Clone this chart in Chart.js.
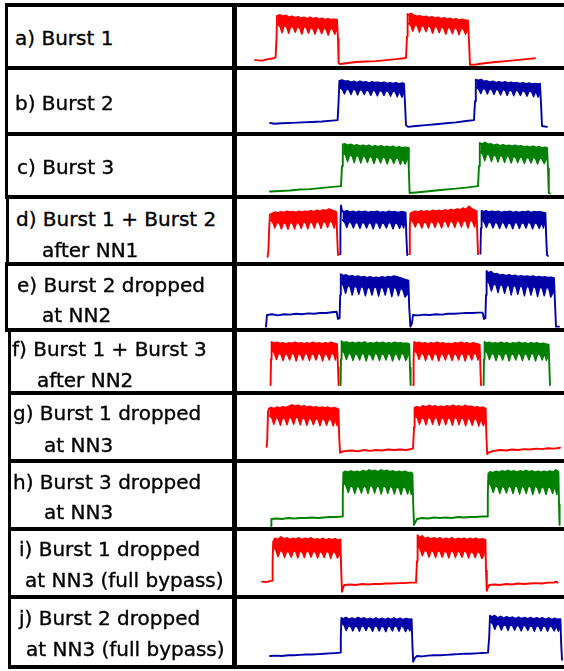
<!DOCTYPE html>
<html>
<head>
<meta charset="utf-8">
<script src="https://cdn.jsdelivr.net/npm/chart.js@4"></script>
<style>
  html, body { margin: 0; padding: 0; background: #fff; }
  #fig { position: relative; width: 564px; height: 671px; overflow: hidden; background: #fff; }
  #fig canvas { position: absolute; }
  .rule { position: absolute; background: #000; z-index: 5; }
  .lbl { position: absolute; white-space: pre; color: #000; font-family: "DejaVu Sans", sans-serif;
         font-size: 20px; line-height: 20px; z-index: 6; -webkit-text-stroke: 0.35px #000; }
</style>
</head>
<body>
<div id="fig"></div>
<script>
// ---------------------------------------------------------------------------
// Row captions
// ---------------------------------------------------------------------------
const rowLabels = [
  ["a) Burst 1"],
  ["b) Burst 2"],
  ["c) Burst 3"],
  ["d) Burst 1 + Burst 2", "after NN1"],
  ["e) Burst 2 dropped", "at NN2"],
  ["f) Burst 1 + Burst 3", "after NN2"],
  ["g) Burst 1 dropped", "at NN3"],
  ["h) Burst 3 dropped", "at NN3"],
  ["i) Burst 1 dropped", "at NN3 (full bypass)"],
  ["j) Burst 2 dropped", "at NN3 (full bypass)"]
];

// Time window shown in every trace (µs)
const timeWindow = [0, 16.4];

// ---------------------------------------------------------------------------
// Scope traces: [time µs, normalised optical power]
// "…Under" arrays give the lower edge of the noisy "on" band
// [t, null] breaks a trace
// ---------------------------------------------------------------------------
const aRed = [[0.95,0.06],[1.3,0.05],[1.6,0.08],[1.9,0.1],[1.98,0.12],[2.03,0.55],[2.05,0.98],
  [2.2,1.0],[2.35,0.97],[2.5,0.99],[2.65,0.95],[2.8,0.97],[2.95,0.94],[3.1,0.96],[3.25,0.93],[3.4,0.95],[3.55,0.92],[3.7,0.95],[3.85,0.92],[4.0,0.94],[4.15,0.91],[4.3,0.93],[4.45,0.9],[4.6,0.92],[4.75,0.9],[4.9,0.91],[5.05,0.9],
  [5.1,0.5],[5.13,0.0],[5.2,-0.02],[5.6,0.0],[6.0,0.02],[6.5,0.03],[7.0,0.04],[7.5,0.06],[8.0,0.08],[8.4,0.1],[8.5,0.11],[8.55,0.55],[8.58,1.02],
  [8.6,1.0],[8.75,1.03],[8.9,0.99],[9.05,0.97],[9.2,0.98],[9.35,0.95],[9.5,0.97],[9.65,0.94],[9.8,0.96],[9.95,0.93],[10.1,0.95],[10.25,0.92],[10.4,0.94],[10.55,0.91],[10.7,0.93],[10.85,0.9],[11.0,0.92],[11.15,0.89],[11.3,0.91],[11.45,0.89],[11.6,0.88],
  [11.65,0.45],[11.7,-0.04],[12.0,-0.03],[12.5,0.0],[13.0,0.02],[13.5,0.04],[14.0,0.06],[14.5,0.08],[14.95,0.1]];
const aRedUnder = [[2.08,0.8],[2.2,0.76],[2.3,0.63],[2.41,0.78],[2.53,0.75],[2.63,0.62],[2.74,0.77],[2.86,0.74],[2.96,0.64],[3.07,0.76],[3.19,0.72],[3.29,0.6],[3.4,0.76],[3.52,0.73],[3.62,0.62],[3.73,0.75],[3.85,0.71],[3.95,0.6],[4.06,0.74],[4.18,0.72],[4.28,0.61],[4.39,0.73],[4.51,0.7],[4.61,0.58],[4.72,0.72],[4.84,0.7],[4.94,0.6],[5.05,0.72],
  [5.1,null],
  [8.62,0.82],[8.74,0.78],[8.84,0.66],[8.95,0.8],[9.07,0.77],[9.17,0.64],[9.28,0.79],[9.4,0.75],[9.5,0.65],[9.61,0.78],[9.73,0.74],[9.83,0.62],[9.94,0.77],[10.06,0.74],[10.16,0.63],[10.27,0.76],[10.39,0.72],[10.49,0.6],[10.6,0.75],[10.72,0.72],[10.82,0.61],[10.93,0.74],[11.05,0.71],[11.15,0.59],[11.26,0.73],[11.38,0.7],[11.48,0.6],[11.6,0.72]];

const bBlue = [[1.7,0.07],[1.9,0.05],[2.3,0.06],[2.8,0.07],[3.3,0.08],[3.8,0.09],[4.3,0.1],[4.8,0.12],[5.08,0.13],[5.13,0.55],[5.17,1.0],
  [5.3,1.02],[5.45,0.99],[5.6,1.0],[5.75,0.97],[5.9,0.99],[6.05,0.96],[6.2,0.99],[6.35,0.97],[6.5,0.98],[6.65,0.95],[6.8,0.98],[6.95,0.96],[7.1,0.97],[7.25,0.95],[7.4,0.97],[7.55,0.94],[7.7,0.96],[7.85,0.94],[8.0,0.96],[8.15,0.93],[8.3,0.95],[8.4,0.94],
  [8.45,0.5],[8.5,0.02],[8.6,-0.02],[9.0,0.0],[9.5,0.02],[10.0,0.04],[10.5,0.06],[11.0,0.08],[11.5,0.11],[11.9,0.13],[11.95,0.55],[11.99,1.03],
  [12.1,1.01],[12.25,1.03],[12.4,0.99],[12.55,1.0],[12.7,0.97],[12.85,0.99],[13.0,0.96],[13.15,0.98],[13.3,0.96],[13.45,0.98],[13.6,0.95],[13.75,0.97],[13.9,0.95],[14.05,0.96],[14.2,0.94],[14.35,0.96],[14.5,0.93],[14.65,0.95],[14.8,0.93],[14.95,0.94],[15.1,0.93],[15.2,0.94],
  [15.25,0.5],[15.3,0.0],[15.55,-0.02]];
const bBlueUnder = [[5.2,0.84],[5.32,0.81],[5.42,0.71],[5.53,0.83],[5.65,0.8],[5.75,0.7],[5.86,0.82],[5.98,0.8],[6.08,0.69],[6.19,0.81],[6.31,0.79],[6.41,0.7],[6.52,0.8],[6.64,0.78],[6.74,0.68],[6.85,0.8],[6.97,0.77],[7.07,0.67],[7.18,0.79],[7.3,0.77],[7.4,0.68],[7.51,0.79],[7.63,0.76],[7.73,0.66],[7.84,0.78],[7.96,0.76],[8.06,0.65],[8.17,0.77],[8.3,0.64],[8.4,0.76],
  [8.45,null],
  [12.02,0.85],[12.14,0.82],[12.24,0.72],[12.35,0.84],[12.47,0.81],[12.57,0.71],[12.68,0.83],[12.8,0.8],[12.9,0.7],[13.01,0.82],[13.13,0.79],[13.23,0.69],[13.34,0.81],[13.46,0.79],[13.56,0.68],[13.67,0.8],[13.79,0.78],[13.89,0.67],[14.0,0.8],[14.12,0.77],[14.22,0.68],[14.33,0.79],[14.45,0.76],[14.55,0.66],[14.66,0.78],[14.78,0.76],[14.88,0.65],[14.99,0.77],[15.11,0.64],[15.2,0.76]];

const cGreen = [[1.7,0.03],[2.2,0.04],[2.7,0.05],[3.2,0.07],[3.7,0.08],[4.2,0.1],[4.7,0.12],[5.25,0.14],[5.3,0.55],[5.34,0.99],
  [5.45,1.0],[5.6,0.97],[5.75,0.99],[5.9,0.96],[6.05,0.98],[6.2,0.95],[6.35,0.97],[6.5,0.95],[6.65,0.97],[6.8,0.94],[6.95,0.96],[7.1,0.94],[7.25,0.96],[7.4,0.93],[7.55,0.95],[7.7,0.93],[7.85,0.95],[8.0,0.92],[8.15,0.94],[8.3,0.92],[8.45,0.93],[8.6,0.92],
  [8.64,0.5],[8.68,0.0],[9.0,0.01],[9.5,0.03],[10.0,0.05],[10.5,0.07],[11.0,0.09],[11.5,0.11],[12.1,0.14],[12.15,0.55],[12.19,1.02],
  [12.3,1.0],[12.45,1.03],[12.6,0.99],[12.75,1.0],[12.9,0.97],[13.05,0.99],[13.2,0.96],[13.35,0.98],[13.5,0.96],[13.65,0.97],[13.8,0.95],[13.95,0.97],[14.1,0.95],[14.25,0.96],[14.4,0.94],[14.55,0.95],[14.7,0.93],[14.85,0.95],[15.0,0.93],[15.15,0.94],[15.3,0.92],[15.45,0.93],[15.55,0.92],
  [15.6,0.5],[15.64,0.0],[15.7,-0.01]];
const cGreenUnder = [[5.36,0.82],[5.48,0.77],[5.58,0.64],[5.69,0.78],[5.81,0.75],[5.91,0.62],[6.02,0.77],[6.14,0.74],[6.24,0.61],[6.35,0.76],[6.47,0.73],[6.57,0.62],[6.68,0.75],[6.8,0.72],[6.9,0.6],[7.01,0.74],[7.13,0.71],[7.23,0.61],[7.34,0.74],[7.46,0.71],[7.56,0.59],[7.67,0.73],[7.79,0.7],[7.89,0.6],[8.0,0.72],[8.12,0.7],[8.22,0.58],[8.33,0.71],[8.45,0.59],[8.6,0.72],
  [8.64,null],
  [12.22,0.84],[12.34,0.78],[12.44,0.66],[12.55,0.8],[12.67,0.77],[12.77,0.64],[12.88,0.78],[13.0,0.75],[13.1,0.63],[13.21,0.77],[13.33,0.74],[13.43,0.62],[13.54,0.76],[13.66,0.73],[13.76,0.61],[13.87,0.75],[13.99,0.72],[14.09,0.62],[14.2,0.74],[14.32,0.71],[14.42,0.6],[14.53,0.73],[14.65,0.71],[14.75,0.61],[14.86,0.73],[14.98,0.7],[15.08,0.59],[15.19,0.72],[15.31,0.69],[15.41,0.6],[15.55,0.73]];

const dRed = [[1.58,-0.04],[1.62,0.1],[1.66,0.6],[1.7,0.9],
  [1.8,0.92],[1.95,0.95],[2.1,0.93],[2.25,0.96],[2.4,0.94],[2.55,0.97],[2.7,0.95],[2.85,0.96],[3.0,0.94],[3.15,0.97],[3.3,0.95],[3.45,0.97],[3.6,0.96],[3.75,0.98],[3.9,0.96],[4.05,0.99],[4.2,0.97],[4.35,1.0],[4.5,0.98],[4.65,1.02],[4.8,0.99],[4.95,0.97],[5.02,0.95],
  [5.06,0.4],[5.1,0.0],[5.1,null],
  [8.65,0.02],[8.69,0.6],[8.72,0.92],
  [8.8,0.94],[8.95,0.97],[9.1,0.95],[9.25,0.98],[9.4,0.96],[9.55,0.98],[9.7,0.96],[9.85,0.99],[10.0,0.97],[10.15,0.99],[10.3,0.97],[10.45,1.0],[10.6,0.98],[10.75,1.01],[10.9,0.99],[11.05,1.02],[11.2,1.0],[11.35,1.04],[11.5,1.01],[11.65,1.08],[11.8,1.02],[11.95,0.99],[12.03,0.97],
  [12.07,0.4],[12.1,0.02]];
const dRedUnder = [[1.72,0.78],[1.84,0.72],[1.94,0.6],[2.05,0.73],[2.17,0.7],[2.27,0.58],[2.38,0.72],[2.5,0.69],[2.6,0.57],[2.71,0.73],[2.83,0.7],[2.93,0.58],[3.04,0.73],[3.16,0.7],[3.26,0.59],[3.37,0.74],[3.49,0.71],[3.59,0.58],[3.7,0.74],[3.82,0.71],[3.92,0.6],[4.03,0.75],[4.15,0.72],[4.25,0.59],[4.36,0.75],[4.48,0.72],[4.58,0.61],[4.69,0.76],[4.81,0.72],[4.91,0.6],[5.0,0.76],
  [5.02,null],
  [8.74,0.78],[8.86,0.73],[8.96,0.62],[9.07,0.74],[9.19,0.71],[9.29,0.6],[9.4,0.74],[9.52,0.71],[9.62,0.6],[9.73,0.75],[9.85,0.72],[9.95,0.61],[10.06,0.75],[10.18,0.72],[10.28,0.6],[10.39,0.76],[10.51,0.73],[10.61,0.62],[10.72,0.76],[10.84,0.73],[10.94,0.61],[11.05,0.77],[11.17,0.74],[11.27,0.62],[11.38,0.77],[11.5,0.74],[11.6,0.6],[11.71,0.78],[11.83,0.74],[11.93,0.62],[12.0,0.78]];
const dBlue = [[5.2,0.02],[5.22,0.6],[5.25,1.1],[5.3,0.98],
  [5.4,0.96],[5.55,0.98],[5.7,0.95],[5.85,0.97],[6.0,0.94],[6.15,0.97],[6.3,0.95],[6.45,0.97],[6.6,0.94],[6.75,0.96],[6.9,0.95],[7.05,0.97],[7.2,0.94],[7.35,0.96],[7.5,0.94],[7.65,0.97],[7.8,0.95],[7.95,0.96],[8.1,0.94],[8.25,0.96],[8.4,0.95],[8.48,0.94],
  [8.52,0.4],[8.56,0.0],[8.56,null],
  [12.22,0.03],[12.25,0.6],[12.28,0.98],
  [12.35,0.96],[12.5,0.98],[12.65,0.95],[12.8,0.97],[12.95,0.95],[13.1,0.97],[13.25,0.94],[13.4,0.96],[13.55,0.95],[13.7,0.97],[13.85,0.94],[14.0,0.96],[14.15,0.94],[14.3,0.96],[14.45,0.95],[14.6,0.97],[14.75,0.94],[14.9,0.96],[15.05,0.95],[15.2,0.96],[15.35,0.94],[15.47,0.93],
  [15.51,0.4],[15.55,0.0],[15.6,-0.02]];
const dBlueUnder = [[5.32,0.78],[5.44,0.72],[5.54,0.61],[5.65,0.74],[5.77,0.71],[5.87,0.6],[5.98,0.73],[6.1,0.7],[6.2,0.59],[6.31,0.73],[6.43,0.7],[6.53,0.6],[6.64,0.72],[6.76,0.7],[6.86,0.58],[6.97,0.73],[7.09,0.7],[7.19,0.59],[7.3,0.72],[7.42,0.69],[7.52,0.6],[7.63,0.73],[7.75,0.7],[7.85,0.58],[7.96,0.72],[8.08,0.69],[8.18,0.59],[8.29,0.72],[8.38,0.6],[8.46,0.74],
  [8.48,null],
  [12.3,0.78],[12.42,0.72],[12.52,0.61],[12.63,0.74],[12.75,0.71],[12.85,0.6],[12.96,0.73],[13.08,0.7],[13.18,0.59],[13.29,0.73],[13.41,0.7],[13.51,0.6],[13.62,0.72],[13.74,0.69],[13.84,0.58],[13.95,0.73],[14.07,0.7],[14.17,0.59],[14.28,0.72],[14.4,0.7],[14.5,0.6],[14.61,0.73],[14.73,0.7],[14.83,0.58],[14.94,0.72],[15.06,0.69],[15.16,0.59],[15.27,0.72],[15.37,0.6],[15.45,0.74]];

const eBlue = [[1.5,-0.29],[1.55,0.0],[1.8,0.02],[2.1,-0.01],[2.4,0.02],[2.7,0.01],[3.0,0.03],[3.3,0.02],[3.6,0.04],[3.9,0.03],[4.2,0.05],[4.5,0.05],[4.8,0.07],[5.03,0.08],[5.1,-0.1],[5.18,-0.08],[5.21,0.5],[5.24,1.02],
  [5.35,0.98],[5.5,1.0],[5.65,0.96],[5.8,0.98],[5.95,0.95],[6.1,0.97],[6.25,0.94],[6.4,0.96],[6.55,0.93],[6.7,0.95],[6.85,0.92],[7.0,0.94],[7.15,0.92],[7.3,0.95],[7.45,0.93],[7.6,0.96],[7.75,0.94],[7.9,0.97],[8.05,0.95],[8.2,0.93],[8.35,0.9],[8.5,0.88],[8.62,0.86],
  [8.66,0.2],[8.72,-0.29],[8.8,-0.2],[8.85,0.0],[9.1,-0.01],[9.4,0.01],[9.7,0.0],[10.0,0.02],[10.3,0.01],[10.6,0.03],[10.9,0.03],[11.2,0.04],[11.5,0.05],[11.8,0.05],[12.1,0.06],[12.33,0.06],[12.4,-0.1],[12.47,-0.08],[12.5,0.5],[12.53,1.1],
  [12.6,1.05],[12.75,1.08],[12.9,1.02],[13.05,1.03],[13.2,0.99],[13.35,1.01],[13.5,0.98],[13.65,1.0],[13.8,0.97],[13.95,0.99],[14.1,0.96],[14.25,0.98],[14.4,0.96],[14.55,0.97],[14.7,0.95],[14.85,0.97],[15.0,0.94],[15.15,0.96],[15.3,0.94],[15.45,0.95],[15.6,0.93],[15.75,0.94],[15.9,0.92],
  [15.95,0.3],[16.0,-0.29],[16.15,-0.29]];
const eBlueUnder = [[5.26,0.8],[5.38,0.72],[5.48,0.54],[5.59,0.74],[5.71,0.7],[5.81,0.5],[5.92,0.72],[6.04,0.69],[6.14,0.52],[6.25,0.72],[6.37,0.68],[6.47,0.48],[6.58,0.7],[6.7,0.67],[6.8,0.5],[6.91,0.71],[7.03,0.68],[7.13,0.47],[7.24,0.7],[7.36,0.67],[7.46,0.5],[7.57,0.72],[7.69,0.68],[7.79,0.46],[7.9,0.7],[8.02,0.66],[8.12,0.48],[8.23,0.68],[8.35,0.62],[8.45,0.45],[8.62,0.55],
  [8.66,null],
  [12.55,0.85],[12.67,0.78],[12.77,0.6],[12.88,0.78],[13.0,0.75],[13.1,0.56],[13.21,0.76],[13.33,0.73],[13.43,0.54],[13.54,0.75],[13.66,0.72],[13.76,0.5],[13.87,0.74],[13.99,0.71],[14.09,0.52],[14.2,0.73],[14.32,0.7],[14.42,0.48],[14.53,0.72],[14.65,0.69],[14.75,0.5],[14.86,0.71],[14.98,0.68],[15.08,0.46],[15.19,0.7],[15.31,0.67],[15.41,0.48],[15.52,0.7],[15.64,0.66],[15.74,0.45],[15.9,0.6]];

const fRed = [[1.73,0.0],[1.75,0.6],[1.78,1.0],
  [1.9,0.97],[2.05,0.99],[2.2,0.96],[2.35,0.98],[2.5,0.95],[2.65,0.98],[2.8,0.96],[2.95,0.99],[3.1,0.96],[3.25,0.98],[3.4,0.95],[3.55,0.98],[3.7,0.96],[3.85,0.99],[4.0,0.96],[4.15,0.98],[4.3,0.95],[4.45,0.98],[4.6,0.96],[4.75,0.99],[4.9,0.97],[5.05,0.95],
  [5.1,0.4],[5.13,0.0],[5.13,null],
  [8.86,0.0],[8.88,0.6],[8.91,1.0],
  [9.0,0.97],[9.15,0.99],[9.3,0.96],[9.45,0.98],[9.6,0.95],[9.75,0.98],[9.9,0.96],[10.05,0.99],[10.2,0.96],[10.35,0.98],[10.5,0.95],[10.65,0.97],[10.8,0.95],[10.95,0.98],[11.1,0.96],[11.25,0.99],[11.4,0.96],[11.55,0.98],[11.7,0.95],[11.85,0.98],[12.0,0.96],[12.18,0.94],
  [12.22,0.4],[12.25,0.0]];
const fRedUnder = [[1.8,0.8],[1.92,0.74],[2.02,0.59],[2.13,0.74],[2.25,0.71],[2.35,0.57],[2.46,0.73],[2.58,0.7],[2.68,0.58],[2.79,0.74],[2.91,0.71],[3.01,0.56],[3.12,0.73],[3.24,0.7],[3.34,0.58],[3.45,0.74],[3.57,0.71],[3.67,0.57],[3.78,0.73],[3.9,0.7],[4.0,0.58],[4.11,0.74],[4.23,0.71],[4.33,0.56],[4.44,0.73],[4.56,0.7],[4.66,0.58],[4.77,0.74],[4.89,0.71],[4.97,0.58],[5.05,0.75],
  [5.08,null],
  [8.93,0.8],[9.05,0.74],[9.15,0.59],[9.26,0.74],[9.38,0.71],[9.48,0.57],[9.59,0.73],[9.71,0.7],[9.81,0.58],[9.92,0.74],[10.04,0.71],[10.14,0.56],[10.25,0.73],[10.37,0.7],[10.47,0.58],[10.58,0.74],[10.7,0.71],[10.8,0.57],[10.91,0.73],[11.03,0.7],[11.13,0.58],[11.24,0.74],[11.36,0.71],[11.46,0.56],[11.57,0.73],[11.69,0.7],[11.79,0.58],[11.9,0.74],[12.02,0.71],[12.1,0.58],[12.18,0.75]];
const fGreen = [[5.23,0.0],[5.25,0.6],[5.28,1.02],
  [5.38,0.98],[5.53,1.0],[5.68,0.97],[5.83,0.99],[5.98,0.96],[6.13,0.99],[6.28,0.97],[6.43,1.0],[6.58,0.96],[6.73,0.98],[6.88,0.96],[7.03,0.99],[7.18,0.97],[7.33,0.99],[7.48,0.96],[7.63,0.98],[7.78,0.96],[7.93,0.99],[8.08,0.97],[8.23,0.98],[8.38,0.96],[8.53,0.97],[8.66,0.95],
  [8.7,0.4],[8.73,0.0],[8.73,null],
  [12.38,0.0],[12.4,0.6],[12.43,1.0],
  [12.5,0.97],[12.65,0.99],[12.8,0.96],[12.95,0.98],[13.1,0.96],[13.25,0.99],[13.4,0.96],[13.55,0.98],[13.7,0.95],[13.85,0.98],[14.0,0.96],[14.15,0.99],[14.3,0.96],[14.45,0.98],[14.6,0.95],[14.75,0.98],[14.9,0.96],[15.05,0.98],[15.2,0.95],[15.35,0.97],[15.5,0.95],[15.63,0.94],
  [15.67,0.4],[15.7,0.0]];
const fGreenUnder = [[5.3,0.8],[5.42,0.74],[5.52,0.59],[5.63,0.74],[5.75,0.71],[5.85,0.57],[5.96,0.73],[6.08,0.7],[6.18,0.58],[6.29,0.74],[6.41,0.71],[6.51,0.56],[6.62,0.73],[6.74,0.7],[6.84,0.58],[6.95,0.74],[7.07,0.71],[7.17,0.57],[7.28,0.73],[7.4,0.7],[7.5,0.58],[7.61,0.74],[7.73,0.71],[7.83,0.56],[7.94,0.73],[8.06,0.7],[8.16,0.58],[8.27,0.74],[8.39,0.71],[8.49,0.57],[8.66,0.75],
  [8.68,null],
  [12.45,0.8],[12.57,0.74],[12.67,0.59],[12.78,0.74],[12.9,0.71],[13.0,0.57],[13.11,0.73],[13.23,0.7],[13.33,0.58],[13.44,0.74],[13.56,0.71],[13.66,0.56],[13.77,0.73],[13.89,0.7],[13.99,0.58],[14.1,0.74],[14.22,0.71],[14.32,0.57],[14.43,0.73],[14.55,0.7],[14.65,0.58],[14.76,0.74],[14.88,0.71],[14.98,0.56],[15.09,0.73],[15.21,0.7],[15.31,0.58],[15.42,0.74],[15.52,0.57],[15.63,0.74]];

const gRed = [[1.53,0.07],[1.56,0.2],[1.6,0.85],[1.65,0.92],
  [1.75,0.94],[1.9,0.92],[2.05,0.95],[2.2,0.93],[2.35,0.96],[2.5,0.94],[2.65,0.97],[2.8,1.0],[2.95,0.97],[3.1,0.99],[3.25,0.96],[3.4,0.98],[3.55,0.95],[3.7,0.97],[3.85,0.94],[4.0,0.96],[4.15,0.93],[4.3,0.95],[4.45,0.93],[4.6,0.95],[4.75,0.92],[4.9,0.94],[5.05,0.92],[5.12,0.9],
  [5.16,0.3],[5.2,-0.06],[5.3,-0.04],[5.5,-0.02],[5.8,-0.01],[6.1,-0.03],[6.4,0.0],[6.7,-0.02],[7.0,0.0],[7.3,-0.01],[7.6,0.01],[7.9,0.0],[8.2,0.01],[8.5,0.0],[8.85,0.03],[8.9,0.5],[8.93,0.94],
  [9.05,0.96],[9.2,0.94],[9.35,0.98],[9.5,0.95],[9.65,0.99],[9.8,0.96],[9.95,0.98],[10.1,0.95],[10.25,0.97],[10.4,0.95],[10.55,0.98],[10.7,0.96],[10.85,0.99],[11.0,0.96],[11.15,0.98],[11.3,0.95],[11.45,0.99],[11.6,0.96],[11.75,0.97],[11.9,0.94],[12.05,0.96],[12.2,0.93],[12.35,0.95],[12.48,0.92],
  [12.52,0.3],[12.56,-0.09],[12.65,-0.05],[12.9,-0.02],[13.2,0.0],[13.5,-0.01],[13.8,0.01],[14.1,0.0],[14.4,0.02],[14.7,0.01],[15.0,0.03],[15.3,0.02],[15.6,0.04],[15.9,0.03],[16.2,0.05]];
const gRedUnder = [[1.67,0.76],[1.79,0.71],[1.89,0.57],[2.0,0.72],[2.12,0.69],[2.22,0.55],[2.33,0.72],[2.45,0.69],[2.55,0.56],[2.66,0.73],[2.78,0.7],[2.88,0.57],[2.99,0.74],[3.11,0.7],[3.21,0.56],[3.32,0.72],[3.44,0.69],[3.54,0.55],[3.65,0.71],[3.77,0.68],[3.87,0.56],[3.98,0.7],[4.1,0.68],[4.2,0.54],[4.31,0.7],[4.43,0.67],[4.53,0.55],[4.64,0.69],[4.76,0.67],[4.86,0.53],[4.97,0.69],[5.05,0.54],[5.12,0.68],
  [5.14,null],
  [8.95,0.76],[9.07,0.71],[9.17,0.57],[9.28,0.72],[9.4,0.69],[9.5,0.56],[9.61,0.73],[9.73,0.7],[9.83,0.57],[9.94,0.73],[10.06,0.7],[10.16,0.55],[10.27,0.72],[10.39,0.69],[10.49,0.56],[10.6,0.72],[10.72,0.69],[10.82,0.55],[10.93,0.73],[11.05,0.7],[11.15,0.56],[11.26,0.72],[11.38,0.69],[11.48,0.54],[11.59,0.71],[11.71,0.68],[11.81,0.55],[11.92,0.7],[12.04,0.67],[12.14,0.53],[12.25,0.7],[12.37,0.54],[12.48,0.68]];

const hGreen = [[1.75,-0.14],[1.77,0.0],[2.0,0.01],[2.3,0.0],[2.6,0.02],[2.9,0.01],[3.2,0.02],[3.5,0.02],[3.8,0.03],[4.1,0.02],[4.4,0.03],[4.7,0.04],[5.0,0.04],[5.3,0.05],[5.34,0.5],[5.37,0.95],
  [5.45,0.97],[5.6,0.95],[5.75,0.98],[5.9,0.95],[6.05,0.97],[6.2,0.95],[6.35,0.99],[6.5,0.96],[6.65,1.0],[6.8,0.97],[6.95,0.99],[7.1,0.96],[7.25,1.0],[7.4,0.97],[7.55,0.99],[7.7,0.96],[7.85,0.98],[8.0,0.95],[8.15,0.97],[8.3,0.95],[8.45,0.97],[8.6,0.94],[8.75,0.95],[8.82,0.93],
  [8.86,0.3],[8.9,-0.12],[8.97,-0.06],[9.05,0.0],[9.3,0.02],[9.6,0.01],[9.9,0.03],[10.2,0.02],[10.5,0.03],[10.8,0.02],[11.1,0.04],[11.4,0.03],[11.7,0.04],[12.0,0.04],[12.3,0.05],[12.55,0.05],[12.59,0.5],[12.62,0.93],
  [12.7,0.96],[12.85,0.94],[13.0,0.97],[13.15,0.95],[13.3,0.98],[13.45,0.96],[13.6,0.99],[13.75,0.96],[13.9,0.98],[14.05,0.95],[14.2,0.98],[14.35,0.96],[14.5,0.99],[14.65,0.96],[14.8,0.98],[14.95,0.95],[15.1,0.97],[15.25,0.95],[15.4,0.97],[15.55,0.95],[15.7,0.98],[15.85,0.95],[16.0,1.0],[16.12,0.96],
  [16.15,0.3],[16.18,-0.12]];
const hGreenUnder = [[5.39,0.74],[5.51,0.67],[5.61,0.54],[5.72,0.68],[5.84,0.65],[5.94,0.52],[6.05,0.67],[6.17,0.64],[6.27,0.53],[6.38,0.68],[6.5,0.65],[6.6,0.52],[6.71,0.69],[6.83,0.66],[6.93,0.53],[7.04,0.68],[7.16,0.65],[7.26,0.51],[7.37,0.68],[7.49,0.65],[7.59,0.52],[7.7,0.67],[7.82,0.64],[7.92,0.51],[8.03,0.66],[8.15,0.63],[8.25,0.5],[8.36,0.66],[8.48,0.63],[8.58,0.51],[8.69,0.66],[8.76,0.5],[8.82,0.64],
  [8.84,null],
  [12.64,0.74],[12.76,0.67],[12.86,0.54],[12.97,0.68],[13.09,0.65],[13.19,0.52],[13.3,0.67],[13.42,0.64],[13.52,0.53],[13.63,0.68],[13.75,0.65],[13.85,0.52],[13.96,0.68],[14.08,0.65],[14.18,0.51],[14.29,0.67],[14.41,0.64],[14.51,0.52],[14.62,0.68],[14.74,0.65],[14.84,0.5],[14.95,0.67],[15.07,0.64],[15.17,0.52],[15.28,0.66],[15.4,0.63],[15.5,0.5],[15.61,0.66],[15.73,0.63],[15.83,0.52],[15.94,0.67],[16.04,0.5],[16.12,0.66]];

const iRed = [[1.3,0.07],[1.5,0.06],[1.7,0.08],[1.8,0.09],[1.83,0.5],[1.86,0.9],
  [1.95,0.97],[2.1,0.94],[2.25,1.0],[2.4,0.95],[2.55,0.98],[2.7,0.94],[2.85,0.97],[3.0,0.95],[3.15,0.98],[3.3,0.94],[3.45,0.97],[3.6,0.95],[3.75,0.98],[3.9,0.94],[4.05,0.96],[4.2,0.94],[4.35,0.97],[4.5,0.93],[4.65,0.96],[4.8,0.94],[4.95,0.96],[5.1,0.93],[5.22,0.95],
  [5.26,0.3],[5.3,-0.14],[5.36,-0.05],[5.42,0.0],[5.7,0.01],[6.0,0.0],[6.3,0.02],[6.6,0.01],[6.9,0.02],[7.2,0.02],[7.5,0.03],[7.8,0.03],[8.1,0.04],[8.4,0.04],[8.7,0.05],[9.0,0.05],[9.05,0.5],[9.08,1.04],
  [9.15,0.98],[9.3,1.02],[9.45,0.96],[9.6,0.99],[9.75,0.95],[9.9,0.98],[10.05,0.95],[10.2,0.98],[10.35,0.94],[10.5,0.97],[10.65,0.95],[10.8,0.98],[10.95,0.94],[11.1,0.97],[11.25,0.95],[11.4,0.97],[11.55,0.94],[11.7,0.97],[11.85,0.95],[12.0,0.97],[12.15,0.94],[12.3,0.96],[12.47,0.94],
  [12.5,0.3],[12.54,-0.12],[12.6,-0.04],[12.66,0.0],[12.9,0.01],[13.2,0.0],[13.5,0.02],[13.8,0.01],[14.1,0.03],[14.4,0.02],[14.7,0.03],[15.0,0.04],[15.3,0.03],[15.6,0.05],[15.9,0.05],[16.0,0.07],[16.08,0.05]];
const iRedUnder = [[1.88,0.78],[2.0,0.72],[2.1,0.59],[2.21,0.72],[2.33,0.69],[2.43,0.57],[2.54,0.71],[2.66,0.68],[2.76,0.58],[2.87,0.72],[2.99,0.69],[3.09,0.56],[3.2,0.71],[3.32,0.68],[3.42,0.57],[3.53,0.72],[3.65,0.69],[3.75,0.58],[3.86,0.71],[3.98,0.68],[4.08,0.56],[4.19,0.7],[4.31,0.67],[4.41,0.57],[4.52,0.71],[4.64,0.68],[4.74,0.55],[4.85,0.7],[4.97,0.67],[5.07,0.56],[5.22,0.68],
  [5.24,null],
  [9.1,0.8],[9.22,0.73],[9.32,0.61],[9.43,0.73],[9.55,0.7],[9.65,0.58],[9.76,0.72],[9.88,0.69],[9.98,0.57],[10.09,0.72],[10.21,0.69],[10.31,0.58],[10.42,0.71],[10.54,0.68],[10.64,0.56],[10.75,0.72],[10.87,0.69],[10.97,0.57],[11.08,0.71],[11.2,0.68],[11.3,0.58],[11.41,0.72],[11.53,0.68],[11.63,0.56],[11.74,0.7],[11.86,0.67],[11.96,0.57],[12.07,0.7],[12.19,0.67],[12.29,0.55],[12.47,0.68]];

const jBlue = [[1.7,0.0],[2.0,0.01],[2.3,0.0],[2.6,0.02],[2.9,0.02],[3.2,0.03],[3.5,0.04],[3.8,0.04],[4.1,0.05],[4.4,0.06],[4.7,0.07],[5.0,0.08],[5.2,0.09],[5.24,0.5],[5.27,1.0],
  [5.35,0.97],[5.5,1.01],[5.65,0.96],[5.8,1.0],[5.95,0.96],[6.1,1.01],[6.25,0.97],[6.4,1.0],[6.55,0.96],[6.7,0.99],[6.85,0.96],[7.0,1.0],[7.15,0.96],[7.3,0.99],[7.45,0.95],[7.6,0.99],[7.75,0.96],[7.9,1.0],[8.05,0.96],[8.2,0.99],[8.35,0.95],[8.5,0.98],[8.65,0.96],[8.78,0.97],
  [8.82,0.3],[8.86,-0.15],[8.95,-0.05],[9.05,0.0],[9.3,-0.01],[9.6,0.01],[9.9,0.02],[10.2,0.02],[10.5,0.03],[10.8,0.04],[11.1,0.05],[11.4,0.06],[11.7,0.06],[12.0,0.07],[12.3,0.08],[12.6,0.09],[12.66,0.5],[12.7,1.06],
  [12.78,1.02],[12.93,1.06],[13.08,1.0],[13.23,1.04],[13.38,0.99],[13.53,1.03],[13.68,0.99],[13.83,1.02],[13.98,0.98],[14.13,1.02],[14.28,0.98],[14.43,1.01],[14.58,0.97],[14.73,1.01],[14.88,0.97],[15.03,1.0],[15.18,0.97],[15.33,1.0],[15.48,0.96],[15.63,1.0],[15.78,0.96],[15.93,0.99],[16.08,0.96],[16.22,0.97],
  [16.26,0.3],[16.3,-0.1]];
const jBlueUnder = [[5.29,0.86],[5.41,0.8],[5.51,0.67],[5.62,0.8],[5.74,0.77],[5.84,0.66],[5.95,0.79],[6.07,0.77],[6.17,0.65],[6.28,0.8],[6.4,0.77],[6.5,0.67],[6.61,0.79],[6.73,0.76],[6.83,0.65],[6.94,0.8],[7.06,0.77],[7.16,0.66],[7.27,0.79],[7.39,0.76],[7.49,0.64],[7.6,0.79],[7.72,0.77],[7.82,0.66],[7.93,0.8],[8.05,0.77],[8.15,0.65],[8.26,0.79],[8.38,0.76],[8.48,0.64],[8.59,0.78],[8.69,0.66],[8.78,0.78],
  [8.8,null],
  [12.72,0.9],[12.84,0.84],[12.94,0.7],[13.05,0.84],[13.17,0.81],[13.27,0.68],[13.38,0.82],[13.5,0.8],[13.6,0.67],[13.71,0.82],[13.83,0.79],[13.93,0.68],[14.04,0.81],[14.16,0.78],[14.26,0.66],[14.37,0.81],[14.49,0.78],[14.59,0.67],[14.7,0.8],[14.82,0.77],[14.92,0.65],[15.03,0.8],[15.15,0.77],[15.25,0.66],[15.36,0.8],[15.48,0.77],[15.58,0.65],[15.69,0.79],[15.81,0.76],[15.91,0.66],[16.02,0.79],[16.12,0.65],[16.22,0.78]];

// ---------------------------------------------------------------------------
// Page layout
// ---------------------------------------------------------------------------
const RED = "#ff0000", BLUE = "#0000a8", GREEN = "#008000";

// horizontal rules (y of each row boundary)
const rowEdges = [5, 68, 134, 197, 264, 330, 393, 461, 529, 597, 667];
const plotLeft = 236, plotRight = 564, dividerX = 232, figRight = 564;

// per row: left edge of the caption box, caption line anchors [x, baseline],
// pixel rows of power 0 and power 1, and the traces drawn in it
const rowLayout = [
  { boxLeft: 5, text: [[15, 45]],             zero: 63,  one: 15,  traces: [[aRed, aRedUnder, RED]] },
  { boxLeft: 5, text: [[15, 110]],            zero: 126, one: 81,  traces: [[bBlue, bBlueUnder, BLUE]] },
  { boxLeft: 5, text: [[17, 174]],            zero: 193, one: 144, traces: [[cGreen, cGreenUnder, GREEN]] },
  { boxLeft: 6, text: [[16, 226], [42, 257]], zero: 255, one: 210, traces: [[dRed, dRedUnder, RED], [dBlue, dBlueUnder, BLUE]] },
  { boxLeft: 5, text: [[17, 292], [42, 322]], zero: 315, one: 275, traces: [[eBlue, eBlueUnder, BLUE]] },
  { boxLeft: 8, text: [[12, 356], [37, 387]], zero: 385, one: 342, traces: [[fRed, fRedUnder, RED], [fGreen, fGreenUnder, GREEN]] },
  { boxLeft: 8, text: [[13, 420], [44, 452]], zero: 450, one: 405, traces: [[gRed, gRedUnder, RED]] },
  { boxLeft: 8, text: [[13, 489], [44, 519]], zero: 519, one: 470, traces: [[hGreen, hGreenUnder, GREEN]] },
  { boxLeft: 8, text: [[19, 556], [25, 587]], zero: 585, one: 537, traces: [[iRed, iRedUnder, RED]] },
  { boxLeft: 8, text: [[19, 625], [26, 656]], zero: 656, one: 618, traces: [[jBlue, jBlueUnder, BLUE]] }
];

const FONT_PX = 20;
const BASELINE_OFFSET = 0.846 * FONT_PX; // DejaVu Sans ascent inside a 1em line box

const fig = document.getElementById("fig");

function addRule(x, y, w, h) {
  const d = document.createElement("div");
  d.className = "rule";
  Object.assign(d.style, { left: x + "px", top: y + "px", width: w + "px", height: h + "px" });
  fig.appendChild(d);
}

const toPoints = arr => arr.map(([t, v]) => ({ x: t, y: v }));

rowLayout.forEach((row, k) => {
  const top = rowEdges[k], bottom = rowEdges[k + 1];
  const h = bottom - top, w = plotRight - plotLeft;

  // captions
  rowLabels[k].forEach((line, n) => {
    const [x, base] = row.text[n];
    const s = document.createElement("div");
    s.className = "lbl";
    s.textContent = line;
    s.style.left = x + "px";
    s.style.top = (base - BASELINE_OFFSET) + "px";
    fig.appendChild(s);
  });

  // trace panel
  const cv = document.createElement("canvas");
  cv.width = w; cv.height = h;
  cv.style.left = plotLeft + "px";
  cv.style.top = top + "px";
  fig.appendChild(cv);

  const zRel = row.zero - top, oRel = row.one - top;
  const yMax = zRel / (zRel - oRel);
  const yMin = yMax - h / (zRel - oRel);

  const datasets = [];
  row.traces.forEach(([line, under, color]) => {
    datasets.push({ data: toPoints(line), borderColor: color, borderWidth: 1.9, fill: false });
    datasets.push({ data: toPoints(under), borderColor: color, borderWidth: 1.4,
                    backgroundColor: color, fill: "-1" });
  });

  new Chart(cv, {
    type: "line",
    data: { datasets },
    options: {
      responsive: false, animation: false, events: [],
      layout: { padding: 0 },
      plugins: { legend: { display: false }, tooltip: { enabled: false } },
      elements: { point: { radius: 0 }, line: { tension: 0, borderJoinStyle: "round", borderCapStyle: "round" } },
      scales: {
        x: { type: "linear", min: timeWindow[0], max: timeWindow[1], display: false },
        y: { min: yMin, max: yMax, display: false }
      }
    }
  });

  // caption box left edge
  addRule(row.boxLeft, top - 1, 3, h + 3);
});

// horizontal rules
rowEdges.forEach((y, k) => {
  const left = Math.min(rowLayout[Math.min(k, 9)].boxLeft, rowLayout[Math.max(k - 1, 0)].boxLeft);
  addRule(left, y - 2, figRight - left, k === 0 ? 4 : 3.5);
});
// column divider
addRule(dividerX, rowEdges[0] - 2, 4.5, rowEdges[10] - rowEdges[0] + 4);
</script>
</body>
</html>
